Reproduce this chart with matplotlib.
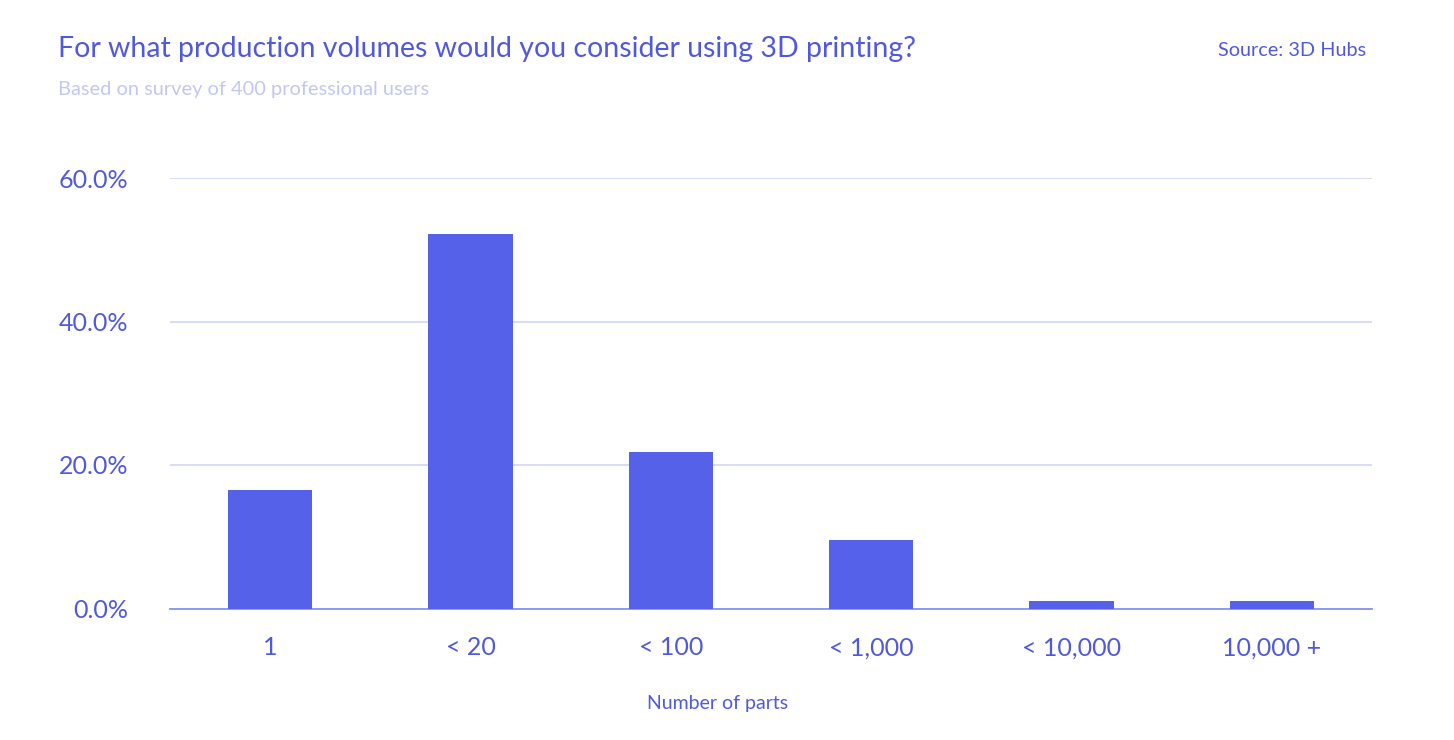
import matplotlib
matplotlib.use("Agg")
import matplotlib.pyplot as plt
from matplotlib.ticker import FuncFormatter

categories = ["1", "< 20", "< 100", "< 1,000", "< 10,000", "10,000 +"]
values = [16.5, 52.2, 21.8, 9.5, 1.1, 1.1]
yticks = [0, 20, 40, 60]

BAR = "#5461E8"
TEXT = "#5059DB"
SUB = "#C3C6F2"
GRID = "#D3D6F6"
BASE = "#8A92EE"

plt.rcParams['font.family'] = ['Lato', 'DejaVu Sans']

fig = plt.figure(figsize=(14.54, 7.40), dpi=100)
ax = fig.add_axes([170/1454, 1-608.5/740, (1372-170)/1454, (608.5-178)/740])

x = range(len(categories))
ax.bar(x, values, width=0.42, color=BAR, zorder=3)
ax.set_xlim(-0.5, len(categories)-0.5)
ax.set_ylim(0, 60)
ax.set_yticks(yticks)
ax.yaxis.set_major_formatter(FuncFormatter(lambda v, p: f"{v:.1f}%"))
ax.set_xticks(list(x))
ax.set_xticklabels(categories)
ax.grid(axis='y', color=GRID, linewidth=1.2, zorder=0)
for s in ['top', 'right', 'left']:
    ax.spines[s].set_visible(False)
ax.spines['bottom'].set_color(BASE)
ax.spines['bottom'].set_linewidth(1.3)
ax.tick_params(axis='both', length=0, labelsize=18, colors=TEXT)
ax.tick_params(axis='y', pad=30)
ax.tick_params(axis='x', pad=20)

fig.text(718/1454, 1-704/740, "Number of parts", fontsize=14, color=TEXT,
         va='center', ha='center')
fig.text(58/1454, 1-49/740, "For what production volumes would you consider using 3D printing?",
         fontsize=20.5, color=TEXT, va='center', ha='left')
fig.text(58/1454, 1-89/740, "Based on survey of 400 professional users",
         fontsize=14.4, color=SUB, va='center', ha='left')
fig.text(1366/1454, 1-50/740, "Source: 3D Hubs",
         fontsize=14.3, color=TEXT, va='center', ha='right')

fig.savefig("out.png", dpi=100, facecolor="white")
